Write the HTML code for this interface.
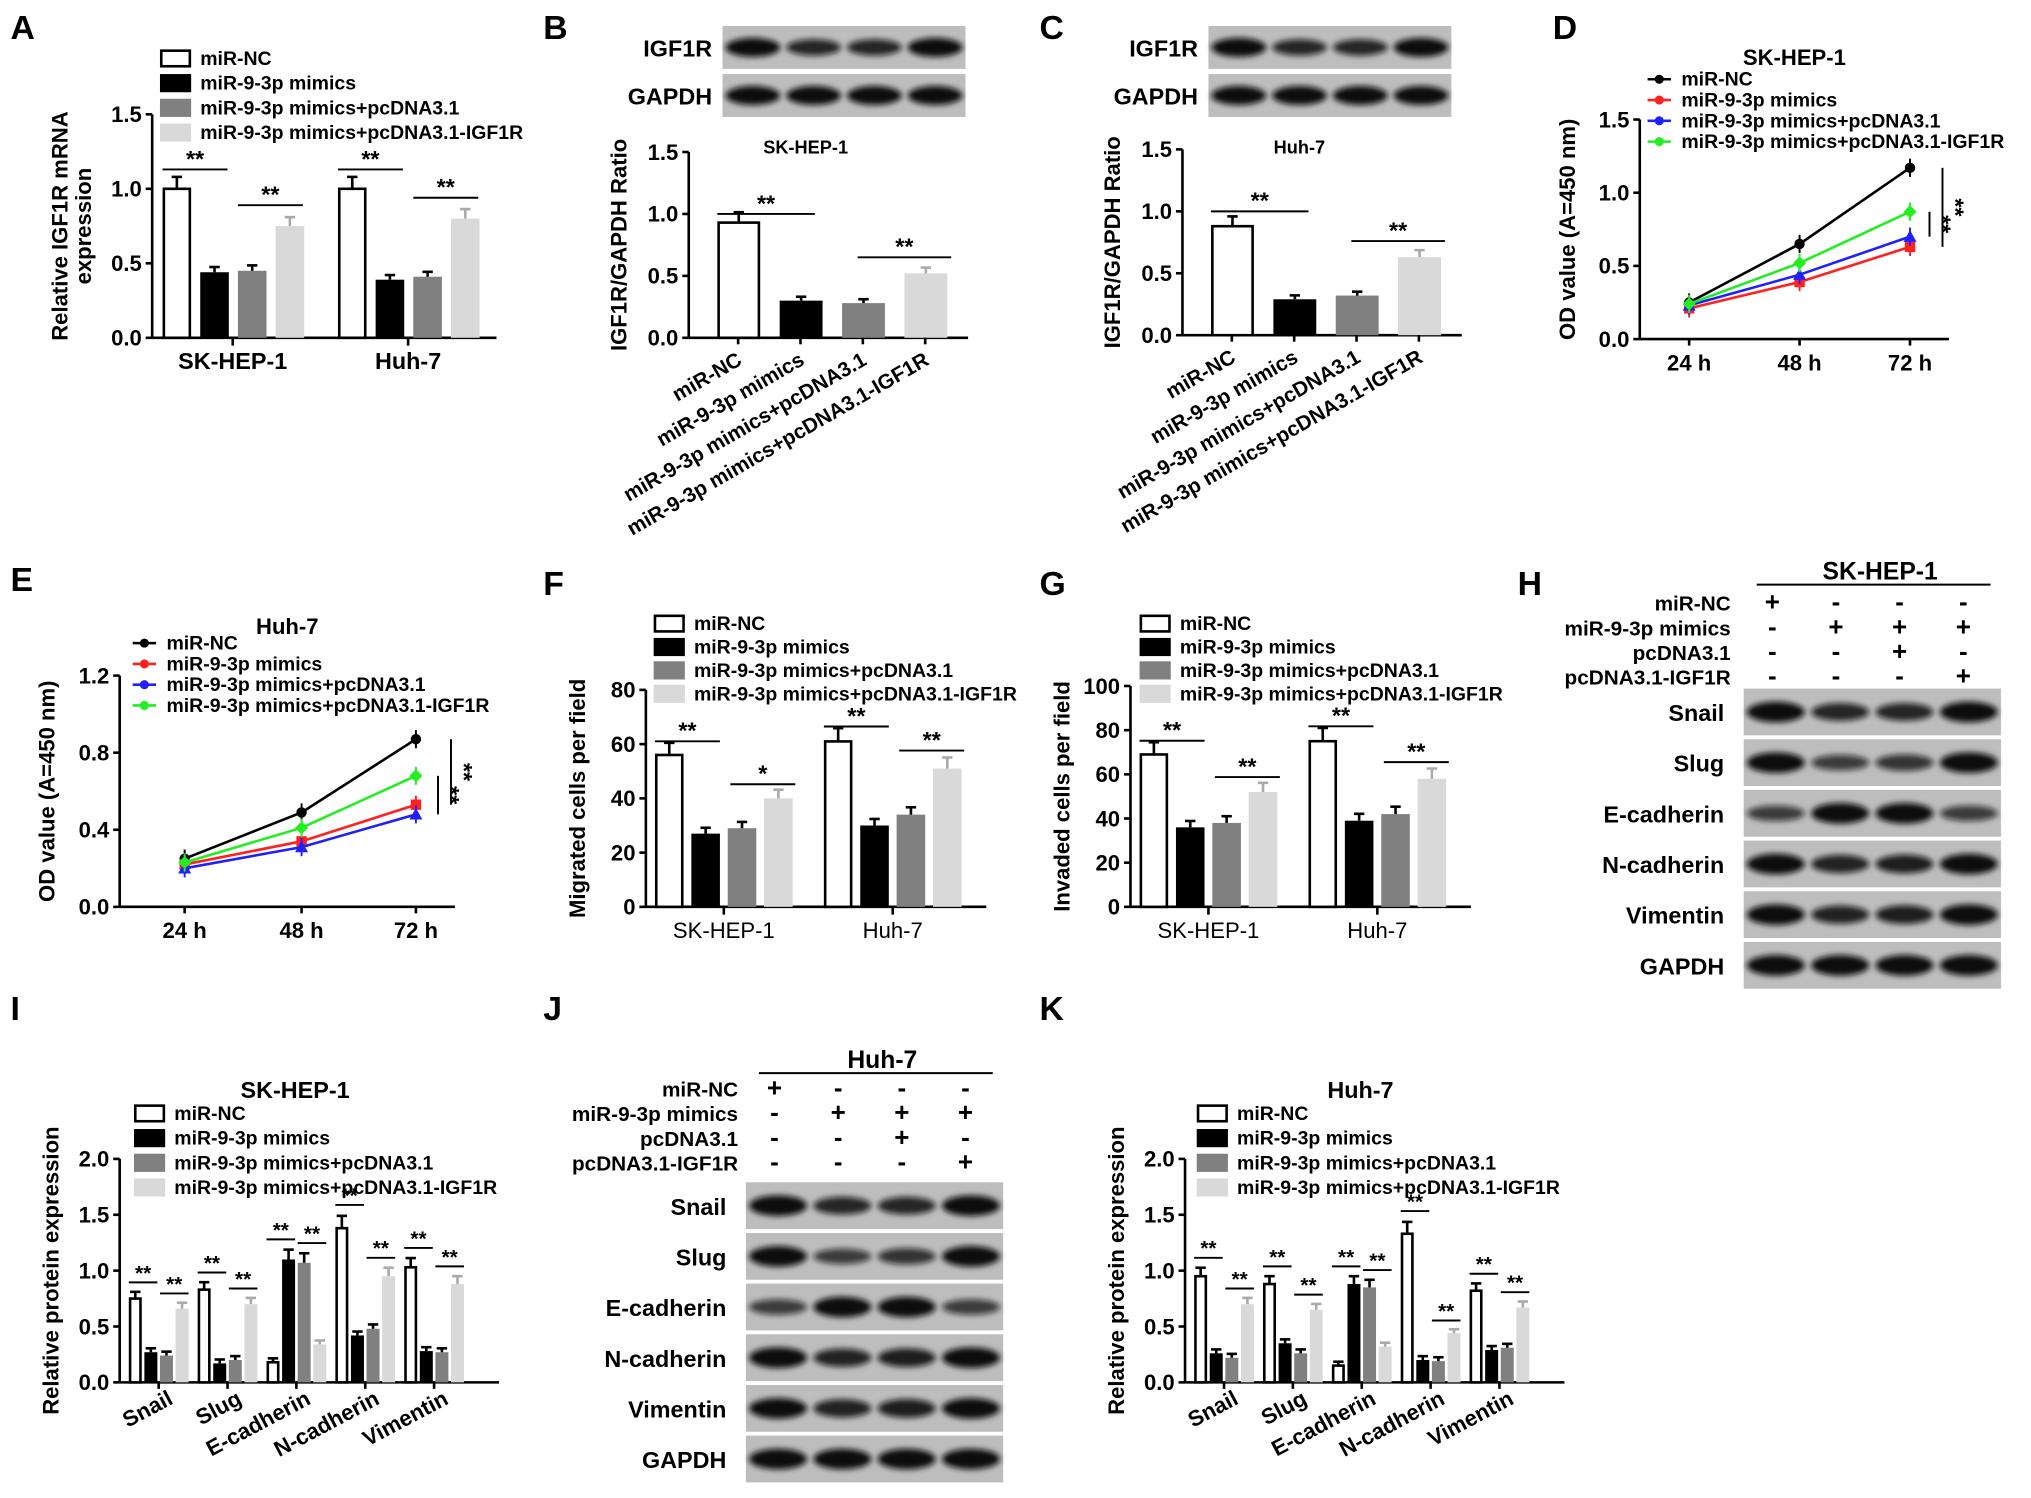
<!DOCTYPE html>
<html><head><meta charset="utf-8"><style>
html,body{margin:0;padding:0;background:#fff;}
svg{display:block;font-family:"Liberation Sans",sans-serif;font-weight:bold;}
</style></head><body>
<svg id="fig" width="2031" height="1498" viewBox="0 0 1563 1153" xmlns="http://www.w3.org/2000/svg">
<defs><filter id="blur" x="-20%" y="-50%" width="140%" height="200%"><feGaussianBlur stdDeviation="2.2"/></filter></defs>
</svg>
<script>
const NS='http://www.w3.org/2000/svg';
const svg=document.getElementById('fig');
const fills=['#fff','#000','#808080','#d9d9d9'];
const legendLabels=['miR-NC','miR-9-3p mimics','miR-9-3p mimics+pcDNA3.1','miR-9-3p mimics+pcDNA3.1-IGF1R'];
const lineColors=['#000','#ff2020','#2020ff','#22ee22'];

// Data arrays
const aCats=['SK-HEP-1','Huh-7'];
const aVals=[[1.0,0.44,0.45,0.75],[1.0,0.39,0.41,0.80]];
const aTicks=[0,0.5,1.0,1.5];
const bVals=[[0.93,0.30,0.28,0.52]];
const cVals=[[0.88,0.29,0.32,0.63]];
const bcTicks=[0,0.5,1.0,1.5];
const timeLabels=['24 h','48 h','72 h'];
const dSeries=[[0.25,0.65,1.17],[0.21,0.39,0.63],[0.23,0.44,0.70],[0.24,0.52,0.87]];
const dTicks=[0,0.5,1.0,1.5];
const eSeries=[[0.25,0.49,0.87],[0.22,0.34,0.53],[0.20,0.31,0.48],[0.23,0.41,0.68]];
const eTicks=[0,0.4,0.8,1.2];
const fVals=[[56,27,29,40],[61,30,34,51]];
const fTicks=[0,20,40,60,80];
const gVals=[[69,36,38,52],[75,39,42,58]];
const gTicks=[0,20,40,60,80,100];
const protCats=['Snail','Slug','E-cadherin','N-cadherin','Vimentin'];
const iVals=[[0.75,0.27,0.24,0.66],[0.83,0.17,0.20,0.70],[0.18,1.10,1.07,0.34],[1.38,0.42,0.48,0.95],[1.03,0.28,0.27,0.88]];
const kVals=[[0.95,0.26,0.22,0.70],[0.88,0.35,0.26,0.65],[0.15,0.88,0.85,0.32],[1.33,0.20,0.19,0.44],[0.82,0.29,0.31,0.67]];
const protTicks=[0,0.5,1.0,1.5,2.0];

function el(tag,attrs,parent,text){const e=document.createElementNS(NS,tag);for(const k in attrs)e.setAttribute(k,attrs[k]);if(text!==undefined)e.textContent=text;(parent||svg).appendChild(e);return e;}
function txt(x,y,s,size,parent,anchor,extra){const a=Object.assign({x:x,y:y,'font-size':size,'text-anchor':anchor||'start'},extra||{});return el('text',a,parent,s);}

function panelLetter(x,y,s){const t=txt(x,y,s,26,svg);}

function yAxis(g,ax,fmt,title,titleX){
  el('line',{x1:ax.x0,y1:ax.yTop,x2:ax.x0,y2:ax.y0,stroke:'#000','stroke-width':2},g);
  ax.ticks.forEach(t=>{const y=ax.sy(t);el('line',{x1:ax.x0-5,y1:y,x2:ax.x0,y2:y,stroke:'#000','stroke-width':2},g);
    const l=txt(ax.x0-8,y+6,fmt(t),17,g,'end');});
  const cy=(ax.yTop+ax.y0)/2;
  if(title){const tl=el('text',{x:titleX,y:cy,'font-size':17,'text-anchor':'middle',transform:`rotate(-90 ${titleX} ${cy})`},g);
    
    title.split('\n').forEach((s,i)=>{el('tspan',{x:titleX,dy:i?18:0},tl,s);});}
}
function makeAxis(x0,x1,y0,yTop,max,ticks){return {x0,x1,y0,yTop,max,ticks,sy:v=>y0-(v/max)*(y0-yTop)};}

function legend(g,x,y,step,size){legendLabels.forEach((s,i)=>{const r=el('rect',{x:x,y:y+i*step-11,width:22,height:12,fill:fills[i],stroke:i==0?'#000':fills[i],'stroke-width':2},g);
  
  const t=txt(x+30,y+i*step,s,size||15,g);});}

function bars(g,ax,vals,groupX,step,w,errFrac){
  vals.forEach((grp,gi)=>grp.forEach((v,i)=>{const x=groupX[gi]+i*step;const y=ax.sy(v);
    const r=el('rect',{x:x+(i==0?1:0),y:y,width:w-(i==0?2:0),height:ax.y0-y,fill:fills[i],stroke:i==0?'#000':'none','stroke-width':2},g);
    
    const e=ax.sy(v*(1+errFrac))-0;const cx=x+w/2;
    el('line',{x1:cx,y1:y,x2:cx,y2:Math.min(e,y-3),stroke:i==3?'#aaa':'#000','stroke-width':2},g);
    el('line',{x1:cx-4,y1:Math.min(e,y-3),x2:cx+4,y2:Math.min(e,y-3),stroke:i==3?'#aaa':'#000','stroke-width':2},g);
  }));
}
function sig(g,x1,x2,y,s,size){el('line',{x1:x1,y1:y,x2:x2,y2:y,stroke:'#000','stroke-width':1.5},g);txt((x1+x2)/2,y-2,s,size||18,g,'middle');}

// ---------- Panel A
(function(){const g=el('g',{});
panelLetter(8,30,'A');
const ax=makeAxis(117,380,260,88,1.5,aTicks);
yAxis(g,ax,t=>t.toFixed(1),'Relative IGF1R mRNA\nexpression',52);
el('line',{x1:117,y1:260,x2:382,y2:260,stroke:'#000','stroke-width':2},g);
const gx=[125,260];bars(g,ax,aVals,gx,29,22,0.08);
aCats.forEach((c,i)=>{const cx=gx[i]+54;el('line',{x1:cx,y1:260,x2:cx,y2:266,stroke:'#000','stroke-width':2},g);const t=txt(cx,284,c,18,g,'middle');});
aVals.forEach((v,i)=>{sig(g,gx[i],gx[i]+50,ax.sy(1.13),'**');sig(g,gx[i]+58,gx[i]+108,ax.sy(v[3]+0.14),'**');});
legend(g,124,50,19);})();

// ---------- Blot helper
function blot(g,x,y,w,rows,intens,labelX,labels,rowH,gap,labelSize){
  rows.forEach((r,ri)=>{const yy=y+ri*(rowH+gap);
    const b=el('rect',{x:x,y:yy,width:w,height:rowH,fill:'#bdbdbd'},g);
    const lw=w/intens[ri].length;
    intens[ri].forEach((k,li)=>{el('ellipse',{cx:x+lw*(li+0.5),cy:yy+rowH/2,rx:lw*0.45,ry:rowH*0.2*(0.6+k*0.5),fill:'#111','fill-opacity':0.55+0.45*k,filter:'url(#blur)'},g);});
    const t=txt(labelX,yy+rowH/2+7,labels[ri],labelSize||18,g,'end');});
}

// ---------- Panel B/C
function bcPanel(letter,letX,blotX,axX,yTop,y0,vals,cell){
  const g=el('g',{});
  panelLetter(letX,30,letter);
  blot(g,blotX,20,187,['IGF1R','GAPDH'],[[1,0.7,0.7,1],[1,1,1,1]],blotX-8,['IGF1R','GAPDH'],33,4,18);
  txt(axX+90,118,cell,14,g,'middle');
  const ax=makeAxis(axX,axX+215,y0,yTop,1.5,bcTicks);
  yAxis(g,ax,t=>t.toFixed(1),'IGF1R/GAPDH Ratio',axX-48);
  el('line',{x1:axX,y1:y0,x2:axX+215,y2:y0,stroke:'#000','stroke-width':2},g);
  const gx=[axX+22];bars(g,ax,vals,gx,48,33,0.09);
  vals[0].forEach((v,i)=>{const cx=gx[0]+i*48+16;el('line',{x1:cx,y1:y0,x2:cx,y2:y0+5,stroke:'#000','stroke-width':2},g);
    const t=el('text',{x:cx+4,y:y0+20,'font-size':16,'text-anchor':'end',transform:`rotate(-30 ${cx+4} ${y0+20})`},g,legendLabels[i]);});
  sig(g,gx[0],gx[0]+75,ax.sy(1.0),'**');sig(g,gx[0]+108,gx[0]+180,ax.sy(vals[0][3]+0.13),'**');
}
bcPanel('B',418,556,530,117,260,bVals,'SK-HEP-1');
bcPanel('C',800,930,910,115,258,cVals,'Huh-7');

// ---------- Line charts
function linePanel(name,letter,letX,letY,x0,x1,y0,yTop,max,ticks,xs,series,title,titleY,legX,legY,sigX,fmt){
  const g=el('g',{});
  panelLetter(letX,letY,letter);
  const ax=makeAxis(x0,x1,y0,yTop,max,ticks);
  yAxis(g,ax,fmt,'OD value (A=450 nm)',x0-50);
  el('line',{x1:x0,y1:y0,x2:x1,y2:y0,stroke:'#000','stroke-width':2},g);
  xs.forEach((x,i)=>{el('line',{x1:x,y1:y0,x2:x,y2:y0+5,stroke:'#000','stroke-width':2},g);const t=txt(x,y0+24,timeLabels[i],17,g,'middle');});
  const tt=txt((x0+x1)/2,titleY,title,17,g,'middle');
  series.forEach((s,si)=>{const pts=s.map((v,i)=>xs[i]+','+ax.sy(v)).join(' ');
    const pl=el('polyline',{points:pts,fill:'none',stroke:lineColors[si],'stroke-width':2},g);
    s.forEach((v,i)=>{const y=ax.sy(v);el('line',{x1:xs[i],y1:y-7,x2:xs[i],y2:y+7,stroke:lineColors[si],'stroke-width':1.5},g);
      const m=si==0?el('circle',{cx:xs[i],cy:y,r:4,fill:'#000'},g):si==1?el('rect',{x:xs[i]-4,y:y-4,width:8,height:8,fill:lineColors[si]},g):si==2?el('polygon',{points:`${xs[i]},${y-5} ${xs[i]-5},${y+4} ${xs[i]+5},${y+4}`,fill:lineColors[si]},g):el('polygon',{points:`${xs[i]},${y-5} ${xs[i]+5},${y} ${xs[i]},${y+5} ${xs[i]-5},${y}`,fill:lineColors[si]},g);
      });});
  legendLabels.forEach((s,i)=>{const y=legY+i*16;el('line',{x1:legX,y1:y-5,x2:legX+18,y2:y-5,stroke:lineColors[i],'stroke-width':2},g);el('circle',{cx:legX+9,cy:y-5,r:3.5,fill:lineColors[i]},g);
    const t=txt(legX+26,y,s,15,g);});
  const last=xs.length-1;
  el('line',{x1:sigX,y1:ax.sy(series[0][last]),x2:sigX,y2:ax.sy(series[1][last]),stroke:'#000','stroke-width':1.5},g);
  el('line',{x1:sigX-10,y1:ax.sy(series[3][last]),x2:sigX-10,y2:ax.sy(series[2][last]),stroke:'#000','stroke-width':1.5},g);
  el('text',{x:sigX+4,y:ax.sy((series[0][last]+series[1][last])/2),'font-size':18,transform:`rotate(90 ${sigX+4} ${ax.sy((series[0][last]+series[1][last])/2)})`,'text-anchor':'middle'},g,'**');
  el('text',{x:sigX-6,y:ax.sy((series[3][last]+series[2][last])/2),'font-size':18,transform:`rotate(90 ${sigX-6} ${ax.sy((series[3][last]+series[2][last])/2)})`,'text-anchor':'middle'},g,'**');
}
linePanel('d','D',1195,30,1262,1500,261,92,1.5,dTicks,[1300,1385,1470],dSeries,'SK-HEP-1',50,1268,66,1495,t=>t.toFixed(1));
linePanel('e','E',8,455,92,350,698,520,1.2,eTicks,[142,232,320],eSeries,'Huh-7',488,102,500,347,t=>t.toFixed(1));

// ---------- F, G
function fgPanel(name,letter,letX,x0,yTop,max,ticks,vals,title,legX){
  const g=el('g',{});
  panelLetter(letX,458,letter);
  const ax=makeAxis(x0,x0+262,698,yTop,max,ticks);
  yAxis(g,ax,t=>String(t),title,x0-47);
  el('line',{x1:x0,y1:698,x2:x0+262,y2:698,stroke:'#000','stroke-width':2},g);
  const gx=[x0+7,x0+137];bars(g,ax,vals,gx,28,22,0.08);
  ['SK-HEP-1','Huh-7'].forEach((c,i)=>{const cx=gx[i]+53;el('line',{x1:cx,y1:698,x2:cx,y2:704,stroke:'#000','stroke-width':2},g);const t=txt(cx,722,c,17,g,'middle',{'font-weight':'normal'});});
  vals.forEach((v,i)=>{sig(g,gx[i],gx[i]+50,ax.sy(v[0]*1.09),'**');sig(g,gx[i]+58,gx[i]+108,ax.sy(v[3]*1.13),i==0&&name=='f'?'*':'**');});
  legend(g,legX,485,18,15);
}
fgPanel('f','F',418,497,531,80,fTicks,fVals,'Migrated cells per field',504);
fgPanel('g','G',800,870,528,100,gTicks,gVals,'Invaded cells per field',878);

// ---------- H, J blots
const emtRows=['Snail','Slug','E-cadherin','N-cadherin','Vimentin','GAPDH'];
const emtInt=[[1,0.7,0.7,1],[1,0.45,0.55,1],[0.45,1,1,0.45],[1,0.75,0.8,1],[1,0.75,0.8,1],[1,1,1,1]];
const condRows=['miR-NC','miR-9-3p mimics','pcDNA3.1','pcDNA3.1-IGF1R'];
const condSigns=[['+','-','-','-'],['-','+','+','+'],['-','-','+','-'],['-','-','-','+']];
function emtBlot(letter,letX,letY,bx,by,cellY,cellName,condY,condLabelX){
  const g=el('g',{});
  panelLetter(letX,letY,letter);
  txt(bx+105,cellY-4,cellName,19,g,'middle');el('line',{x1:bx+10,y1:cellY,x2:bx+190,y2:cellY,stroke:'#000','stroke-width':1.5},g);
  condRows.forEach((r,ri)=>{const y=condY+ri*19;txt(condLabelX,y,r,16,g,'end');condSigns[ri].forEach((s,i)=>txt(bx+22+i*49,y,s,20,g,'middle'));});
  blot(g,bx,by,198,emtRows,emtInt,bx-15,emtRows,36,3,18);
}
emtBlot('H',1168,458,1342,530,450,'SK-HEP-1',470,1332);
emtBlot('J',418,785,574,910,826,'Huh-7',844,568);

// ---------- I, K protein bar charts
function protPanel(name,letter,letX,x0,vals,title,legX){
  const g=el('g',{});
  panelLetter(letX,785,letter);
  const ax=makeAxis(x0,x0+292,1064,892,2.0,protTicks);
  yAxis(g,ax,t=>t.toFixed(1),'Relative protein expression',x0-47);
  el('line',{x1:x0,y1:1064,x2:x0+292,y2:1064,stroke:'#000','stroke-width':2},g);
  const tt=txt(x0+135,845,title,18,g,'middle');
  const gx=vals.map((v,i)=>x0+7+i*53);bars(g,ax,vals,gx,12,10,0.08);
  protCats.forEach((c,i)=>{const cx=gx[i]+23;el('line',{x1:cx,y1:1064,x2:cx,y2:1069,stroke:'#000','stroke-width':2},g);
    const t=el('text',{x:cx+12,y:1080,'font-size':17,'text-anchor':'end',transform:`rotate(-28 ${cx+12} ${1080})`},g,c);});
  vals.forEach((v,i)=>{sig(g,gx[i],gx[i]+22,ax.sy(Math.max(v[0],v[1])*1.1+0.07),'**',16);sig(g,gx[i]+24,gx[i]+46,ax.sy(Math.max(v[2],v[3])*1.1+0.07),'**',16);});
  legend(g,legX,862,19,15);
}
protPanel('i','I',8,92,iVals,'SK-HEP-1',104);
protPanel('k','K',800,912,kVals,'Huh-7',922);
</script>
</body></html>
